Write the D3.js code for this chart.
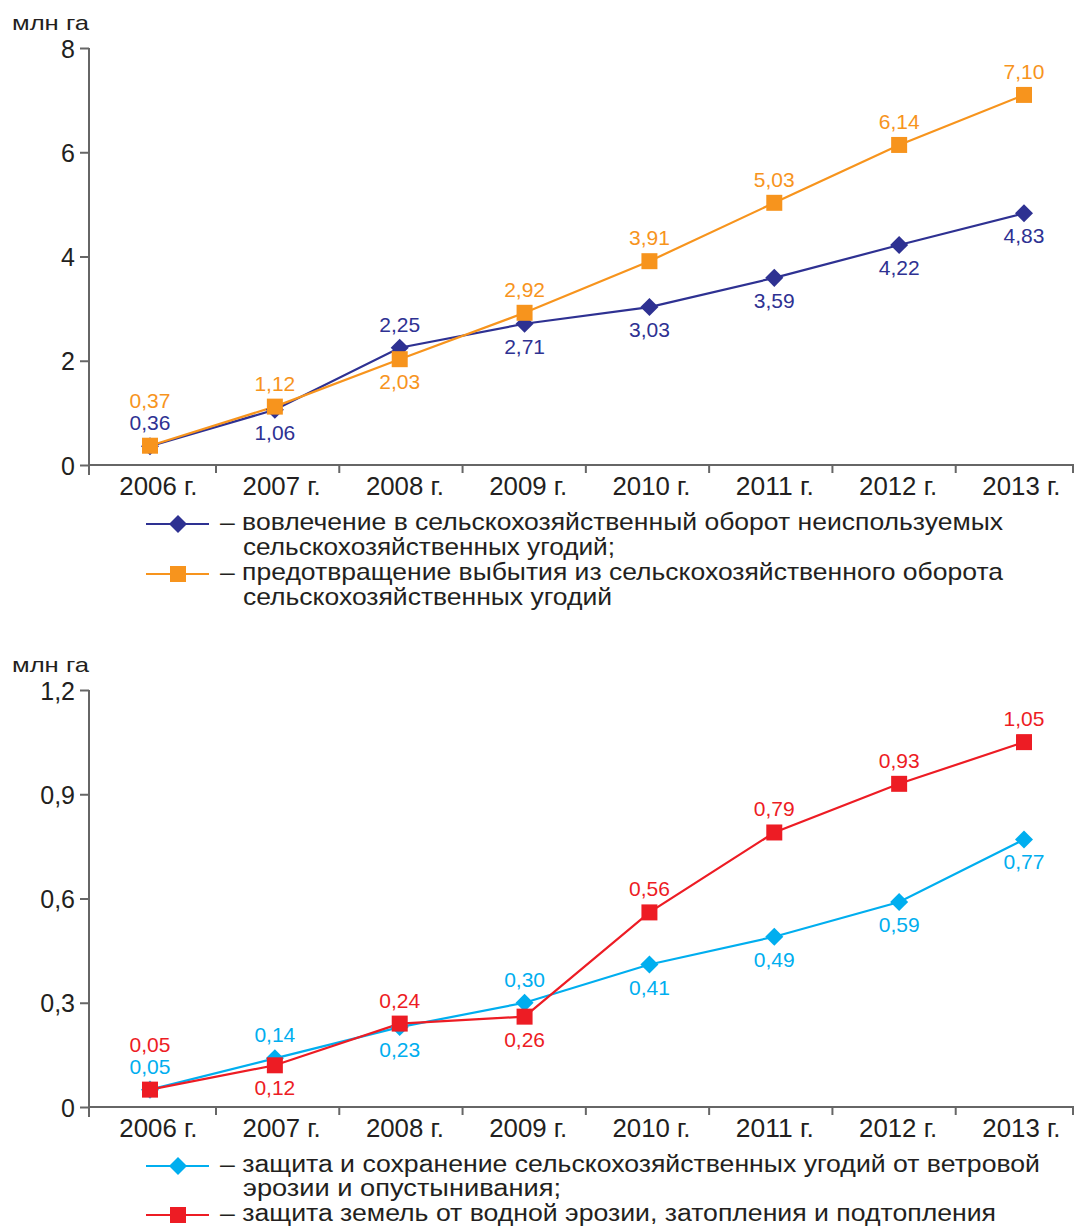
<!DOCTYPE html>
<html><head><meta charset="utf-8">
<script src="https://cdn.jsdelivr.net/npm/d3@7"></script>
<style>
body{margin:0;background:#fff;}
svg{display:block;font-family:"Liberation Sans",Arial,sans-serif;}
</style></head>
<body>
<svg id="c" width="1074" height="1229"></svg>
<script>
const years = ["2006 г.","2007 г.","2008 г.","2009 г.","2010 г.","2011 г.","2012 г.","2013 г."];
const unitLabel = "млн га";

// Chart 1
const involve = [0.36,1.06,2.25,2.71,3.03,3.59,4.22,4.83];
const involveLabels = ["0,36","1,06","2,25","2,71","3,03","3,59","4,22","4,83"];
const involvePos = ["up","down","up","down","down","down","down","down"];
const prevent = [0.37,1.12,2.03,2.92,3.91,5.03,6.14,7.10];
const preventLabels = ["0,37","1,12","2,03","2,92","3,91","5,03","6,14","7,10"];
const preventPos = ["up2","up","down","up","up","up","up","up"];
const ticks1 = [0,2,4,6,8];
const tickLabels1 = ["0","2","4","6","8"];
const legend1 = [
  ["– вовлечение в сельскохозяйственный оборот неиспользуемых","сельскохозяйственных угодий;"],
  ["– предотвращение выбытия из сельскохозяйственного оборота","сельскохозяйственных угодий"]
];
const legendWidths1 = [[783,372],[783,369]];

// Chart 2
const wind = [0.05,0.14,0.23,0.30,0.41,0.49,0.59,0.77];
const windLabels = ["0,05","0,14","0,23","0,30","0,41","0,49","0,59","0,77"];
const windPos = ["up","up","down","up","down","down","down","down"];
const water = [0.05,0.12,0.24,0.26,0.56,0.79,0.93,1.05];
const waterLabels = ["0,05","0,12","0,24","0,26","0,56","0,79","0,93","1,05"];
const waterPos = ["up2","down","up","down","up","up","up","up"];
const ticks2 = [0,0.3,0.6,0.9,1.2];
const tickLabels2 = ["0","0,3","0,6","0,9","1,2"];
const legend2 = [
  ["– защита и сохранение сельскохозяйственных угодий от ветровой","эрозии и опустынивания;"],
  ["– защита земель от водной эрозии, затопления и подтопления"]
];
const legendWidths2 = [[820,318],[776]];

const svg = d3.select("#c");
const axisColor = "#666666";
const textColor = "#231f20";

const diamondType = {draw(ctx,size){const r=Math.sqrt(size)/2*1.41;ctx.moveTo(0,-r);ctx.lineTo(r,0);ctx.lineTo(0,r);ctx.lineTo(-r,0);ctx.closePath();}};
function symFor(shape){
  return shape==="square" ? d3.symbol().type(d3.symbolSquare).size(256) : d3.symbol().type(diamondType).size(164);
}

function drawChart(o){
  const g = svg.append("g");
  const xb = d3.scaleBand().domain(years).range([92.7,1079]);
  const xp = d3.scalePoint().domain(years).range([150,1024]);
  const y = d3.scaleLinear().domain([0,o.max]).range([o.y0,o.yTop]);
  // unit label
  g.append("text").attr("x",12).attr("y",o.yTop-18).attr("font-size",21).attr("fill",textColor)
    .attr("textLength",77).attr("lengthAdjust","spacingAndGlyphs").text(unitLabel);
  // y axis
  const ya = d3.axisLeft(y).tickValues(o.ticks).tickFormat((d,i)=>o.tickLabels[i]).tickSize(9).tickPadding(5);
  const yg = g.append("g").attr("transform","translate(89,0)").call(ya);
  yg.select(".domain").remove();
  yg.append("line").attr("x1",0).attr("x2",0).attr("y1",o.yTop).attr("y2",o.y0+10).attr("stroke",axisColor).attr("stroke-width",2);
  yg.selectAll(".tick line").attr("stroke",axisColor).attr("stroke-width",2);
  yg.selectAll(".tick text").attr("font-size",25).attr("dy","0.36em").attr("fill",textColor).attr("font-family","Liberation Sans, Arial, sans-serif");
  // x axis
  g.append("line").attr("x1",89).attr("x2",1074).attr("y1",o.y0).attr("y2",o.y0).attr("stroke",axisColor).attr("stroke-width",2);
  g.selectAll(".xt").data(years.slice(1)).join("line")
    .attr("x1",d=>xb(d)).attr("x2",d=>xb(d)).attr("y1",o.y0).attr("y2",o.y0+8)
    .attr("stroke",axisColor).attr("stroke-width",2);
  g.append("line").attr("x1",1073).attr("x2",1073).attr("y1",o.y0).attr("y2",o.y0+8).attr("stroke",axisColor).attr("stroke-width",2);
  g.selectAll(".xl").data(years).join("text")
    .attr("x",d=>xb(d)+xb.bandwidth()/2+4).attr("y",o.y0+30)
    .attr("text-anchor","middle").attr("font-size",25).attr("fill",textColor)
    .attr("textLength",78).attr("lengthAdjust","spacingAndGlyphs").text(d=>d);
  const cx = (d,i)=>xp(years[i]);
  const line = d3.line().x((d,i)=>cx(d,i)).y(d=>y(d));
  o.series.forEach(s=>{
    g.append("path").attr("d",line(s.values)).attr("fill","none").attr("stroke",s.color).attr("stroke-width",2.2);
  });
  o.series.forEach(s=>{
    const sym = symFor(s.shape);
    g.selectAll(null).data(s.values).join("path")
      .attr("d",sym).attr("fill",s.color)
      .attr("transform",(d,i)=>`translate(${cx(d,i)},${y(d)})`);
    g.selectAll(null).data(s.values).join("text")
      .attr("x",(d,i)=>cx(d,i)).attr("y",(d,i)=>{
        const p=s.pos[i];
        const off = p==="up"?-16:p==="up2"?-38:30;
        return y(d)+off;
      })
      .attr("text-anchor","middle").attr("font-size",21).attr("fill",s.color).text((d,i)=>s.labels[i]);
  });
  // legend
  o.series.forEach((s,k)=>{
    const ly = o.legendY + k*o.legendStep;
    g.append("line").attr("x1",146).attr("x2",209).attr("y1",ly).attr("y2",ly).attr("stroke",s.color).attr("stroke-width",2.2);
    g.append("path").attr("d",symFor(s.shape)).attr("fill",s.color).attr("transform",`translate(178,${ly})`);
    o.legend[k].forEach((t,j)=>{
      g.append("text").attr("x",j===0?220:243).attr("y",ly+6+j*o.legendLine)
        .attr("font-size",o.legendFont).attr("fill",textColor)
        .attr("textLength",o.widths[k][j]).attr("lengthAdjust","spacingAndGlyphs").text(t);
    });
  });
}

drawChart({max:8,y0:465,yTop:48,ticks:ticks1,tickLabels:tickLabels1,legendY:524,legendLine:25,legendStep:50,legendFont:24,legend:legend1,widths:legendWidths1,
  series:[
    {values:involve,labels:involveLabels,pos:involvePos,color:"#2e3192",shape:"diamond"},
    {values:prevent,labels:preventLabels,pos:preventPos,color:"#f7941d",shape:"square"}
  ]});
drawChart({max:1.2,y0:1107,yTop:690,ticks:ticks2,tickLabels:tickLabels2,legendY:1166,legendLine:24,legendStep:49,legendFont:23,legend:legend2,widths:legendWidths2,
  series:[
    {values:wind,labels:windLabels,pos:windPos,color:"#00aeef",shape:"diamond"},
    {values:water,labels:waterLabels,pos:waterPos,color:"#ed1c24",shape:"square"}
  ]});
</script>
</body></html>
